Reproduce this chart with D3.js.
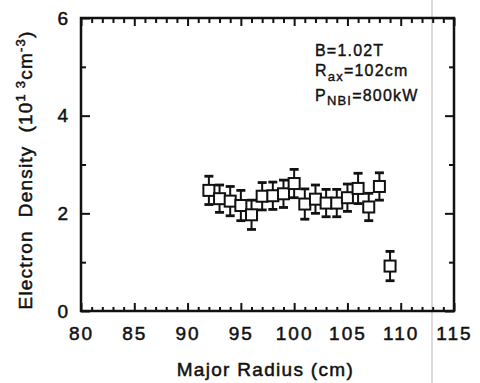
<!DOCTYPE html>
<html>
<head>
<meta charset="utf-8">
<script src="https://cdn.jsdelivr.net/npm/d3@7"></script>
<style>
  body { margin: 0; background: #fff; }
  svg text { font-family: "Liberation Sans", Arial, sans-serif; fill: #111; }
</style>
</head>
<body>
<svg id="chart" width="480" height="383"></svg>
<script>
// major radius (cm)
const radius = [92, 93, 94, 95, 96, 97, 98, 99, 100, 101, 102, 103, 104, 105, 106, 107, 108, 109];
// electron density (10^13 cm^-3)
const density = [2.47, 2.30, 2.25, 2.16, 1.97, 2.35, 2.36, 2.40, 2.61, 2.19, 2.29, 2.21, 2.21, 2.32, 2.51, 2.13, 2.55, 0.92];
const densityErr = [0.29, 0.28, 0.30, 0.31, 0.30, 0.28, 0.28, 0.28, 0.29, 0.31, 0.29, 0.28, 0.28, 0.28, 0.31, 0.28, 0.28, 0.30];

const xTickLabels = [80, 85, 90, 95, 100, 105, 110, 115];
const yTickLabels = [0, 2, 4, 6];

const data = radius.map((r, i) => ({ r: r, n: density[i], e: densityErr[i] }));

const margin = { top: 18, right: 26, bottom: 72, left: 81 };
const W = 480, H = 383;
const width = W - margin.left - margin.right;
const height = H - margin.top - margin.bottom;

const svg = d3.select("#chart");

// faint scan fold line on the page
svg.append("line")
  .attr("x1", 432).attr("x2", 432).attr("y1", 0).attr("y2", H)
  .attr("stroke", "#c4c4c4").attr("stroke-width", 1.2);

const g = svg.append("g").attr("transform", `translate(${margin.left},${margin.top})`);

const x = d3.scaleLinear().domain([80, 115]).range([0, width]);
const y = d3.scaleLinear().domain([0, 6]).range([height, 0]);

const minorX = d3.range(80, 116, 1).filter(v => v % 5 !== 0);
const minorY = d3.range(0, 7, 1).filter(v => v % 2 !== 0);

function styleAxis(sel) {
  sel.select(".domain").remove();
  sel.selectAll("line").attr("stroke", "#111").attr("stroke-width", 2);
}

// bottom axis
g.append("g").attr("transform", `translate(0,${height})`)
  .call(d3.axisBottom(x).tickValues(minorX).tickSize(-4).tickFormat(""))
  .call(styleAxis);
g.append("g").attr("transform", `translate(0,${height})`)
  .call(d3.axisBottom(x).tickValues(xTickLabels).tickSize(-8).tickPadding(16).tickFormat(d3.format("d")))
  .call(styleAxis)
  .selectAll("text")
  .style("font-size", "19px")
  .style("letter-spacing", "2px")
  .attr("stroke", "#111").attr("stroke-width", 0.5);

// top axis
g.append("g")
  .call(d3.axisTop(x).tickValues(minorX).tickSize(-5).tickFormat(""))
  .call(styleAxis);
g.append("g")
  .call(d3.axisTop(x).tickValues(xTickLabels).tickSize(-8).tickFormat(""))
  .call(styleAxis);

// left axis
g.append("g")
  .call(d3.axisLeft(y).tickValues(minorY).tickSize(-5).tickFormat(""))
  .call(styleAxis);
g.append("g")
  .call(d3.axisLeft(y).tickValues(yTickLabels).tickSize(-9).tickPadding(13).tickFormat(d3.format("d")))
  .call(styleAxis)
  .selectAll("text")
  .style("font-size", "19px")
  .attr("stroke", "#111").attr("stroke-width", 0.5);

// right axis
g.append("g").attr("transform", `translate(${width},0)`)
  .call(d3.axisRight(y).tickValues(minorY).tickSize(-5).tickFormat(""))
  .call(styleAxis);
g.append("g").attr("transform", `translate(${width},0)`)
  .call(d3.axisRight(y).tickValues(yTickLabels).tickSize(-9).tickFormat(""))
  .call(styleAxis);

// frame
g.append("rect")
  .attr("width", width).attr("height", height)
  .attr("fill", "none").attr("stroke", "#111").attr("stroke-width", 2.5);

// error bars
const pts = g.append("g");
pts.selectAll(".err").data(data).join("line")
  .attr("x1", d => x(d.r)).attr("x2", d => x(d.r))
  .attr("y1", d => y(d.n - d.e)).attr("y2", d => y(d.n + d.e))
  .attr("stroke", "#111").attr("stroke-width", 2);
["lo", "hi"].forEach(side => {
  pts.selectAll(".cap-" + side).data(data).join("line")
    .attr("x1", d => x(d.r) - 4.5).attr("x2", d => x(d.r) + 4.5)
    .attr("y1", d => y(side === "lo" ? d.n - d.e : d.n + d.e))
    .attr("y2", d => y(side === "lo" ? d.n - d.e : d.n + d.e))
    .attr("stroke", "#111").attr("stroke-width", 2.8);
});

// open square markers
const s = 11;
pts.selectAll("rect").data(data).join("rect")
  .attr("x", d => x(d.r) - s / 2).attr("y", d => y(d.n) - s / 2)
  .attr("width", s).attr("height", s)
  .attr("fill", "#fff").attr("stroke", "#111").attr("stroke-width", 2);

// axis titles
svg.append("text")
  .attr("x", margin.left + x(97.3)).attr("y", 376)
  .attr("text-anchor", "middle")
  .style("font-size", "19px").style("letter-spacing", "1.3px")
  .attr("stroke", "#111").attr("stroke-width", 0.5)
  .text("Major Radius (cm)");

const yl = svg.append("text")
  .attr("transform", "translate(32,170) rotate(-90)")
  .attr("text-anchor", "middle")
  .style("white-space", "pre")
  .style("font-size", "19px").style("letter-spacing", "1.2px")
  .attr("stroke", "#111").attr("stroke-width", 0.5);
yl.append("tspan").text("Electron  Density  (10");
yl.append("tspan").attr("dy", -7).style("font-size", "13px").text("1 3");
yl.append("tspan").attr("dy", 7).text("cm");
yl.append("tspan").attr("dy", -7).style("font-size", "13px").text("-3");
yl.append("tspan").attr("dy", 7).text(")");

// annotation
const ann = svg.append("g").style("font-size", "16px").style("letter-spacing", "1.2px")
  .attr("stroke", "#111").attr("stroke-width", 0.4);
ann.append("text").attr("x", 315).attr("y", 56).text("B=1.02T");
const t2 = ann.append("text").attr("x", 315).attr("y", 76);
t2.append("tspan").text("R");
t2.append("tspan").attr("dy", 5).style("font-size", "13px").text("ax");
t2.append("tspan").attr("dy", -5).text("=102cm");
const t3 = ann.append("text").attr("x", 315).attr("y", 101);
t3.append("tspan").text("P");
t3.append("tspan").attr("dy", 4).style("font-size", "13px").text("NBI");
t3.append("tspan").attr("dy", -4).text("=800kW");
</script>
</body>
</html>
